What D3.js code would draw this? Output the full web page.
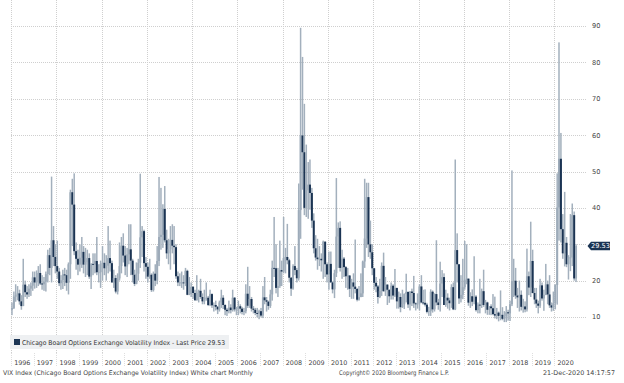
<!DOCTYPE html>
<html><head><meta charset="utf-8">
<script src="https://cdn.jsdelivr.net/npm/d3@7"></script>
<style>html,body{margin:0;padding:0;background:#fff;overflow:hidden}svg{display:block}</style>
</head><body>
<script>
// Monthly VIX OHLC, Jan 1996 .. Dec 2020
const years = d3.range(1996, 2021);
const yTicks = [10, 20, 30, 40, 50, 60, 70, 80, 90];
const lastPrice = 29.53;
const open = [
 12.0,12.5,15.6,16.0,16.5,14.3,13.0,18.9,16.8,16.2,17.8,18.6,
 20.9,19.5,19.8,22.1,19.2,19.0,19.7,21.8,27.0,23.5,31.1,26.5,
 24.0,22.5,19.3,20.1,21.7,21.5,19.4,24.5,44.3,40.9,28.1,26.0,
 24.4,26.3,27.9,24.4,25.1,26.2,21.1,24.6,24.4,25.4,22.3,22.3,
 24.6,24.9,23.4,24.1,26.2,24.8,19.5,20.7,17.0,20.6,24.0,29.6,
 26.9,23.9,27.2,28.6,25.5,21.6,19.1,21.9,24.9,31.9,33.6,24.8,
 23.8,21.1,21.6,17.4,21.9,20.0,25.4,32.0,32.6,39.7,31.1,27.5,
 28.6,31.2,29.6,29.2,21.2,19.5,19.5,19.5,19.4,22.7,16.1,16.3,
 18.3,16.6,14.6,16.7,17.2,15.5,14.3,15.3,15.3,13.3,16.3,13.2,
 13.3,12.8,12.1,14.0,15.3,13.3,12.0,11.6,12.6,11.9,15.3,12.1,
 12.1,12.95,12.3,11.4,11.6,16.4,13.1,14.95,12.3,11.98,11.1,10.9,
 11.6,10.4,15.4,14.6,14.2,13.05,16.2,23.5,23.4,18.0,18.5,22.9,
 22.5,26.2,26.5,25.6,20.8,17.8,24.0,22.9,20.65,39.4,59.9,55.3,
 40.0,44.8,46.4,44.1,36.5,28.9,26.35,25.9,26.0,25.6,30.7,24.5,
 21.7,24.6,19.5,17.6,22.05,32.1,34.5,23.5,26.05,23.7,21.2,21.4,
 17.75,19.5,18.35,17.7,14.75,15.45,16.5,25.25,31.6,42.96,29.96,27.8,
 23.4,19.4,18.4,15.5,17.15,24.06,17.08,18.9,17.5,15.7,18.6,15.9,
 18.0,14.3,15.5,12.7,13.5,16.3,16.9,13.45,17.0,16.6,13.75,13.7,
 13.7,18.4,14.0,13.9,13.4,11.4,11.6,16.95,12.1,16.3,14.0,13.3,
 19.2,20.97,13.3,15.3,14.55,13.8,18.2,12.1,28.4,24.5,15.1,16.1,
 18.2,20.2,20.55,13.95,15.7,14.2,15.6,11.9,13.4,13.3,17.1,13.3,
 14.0,11.99,12.9,12.4,10.8,10.4,11.2,10.3,10.6,9.5,10.2,11.3,
 11.0,13.5,19.85,19.97,15.9,15.4,16.1,12.8,12.9,12.1,21.2,18.1,
 25.4,16.6,14.8,13.7,13.1,18.7,15.1,16.1,18.98,16.2,13.2,12.6,
 13.8,18.8,40.1,53.5,34.15,27.5,30.4,24.5,26.4,26.4,38.0,20.6
];
const high = [
 14.0,17.0,19.0,18.5,17.5,16.0,26.0,20.0,18.5,19.0,19.5,22.5,
 22.5,22.8,24.0,24.5,21.5,21.0,22.5,28.5,29.0,48.6,35.0,30.0,
 31.0,23.5,21.5,23.0,23.5,23.0,25.0,45.0,48.0,49.5,30.5,28.5,
 30.0,32.0,29.5,29.0,28.5,27.5,24.8,27.5,27.5,32.0,24.5,25.5,
 29.5,27.5,27.0,35.0,31.0,25.5,23.0,21.5,22.0,30.5,32.0,33.0,
 29.5,29.0,35.5,35.5,26.0,23.0,25.0,26.0,49.4,35.0,34.0,26.5,
 25.0,26.0,22.0,22.5,24.5,29.5,48.5,45.5,41.0,46.0,34.0,31.5,
 35.0,35.5,35.0,30.0,22.5,22.0,22.5,21.5,23.5,23.0,21.0,19.5,
 18.5,17.5,21.5,17.5,20.5,16.5,17.5,19.5,15.8,17.5,16.5,14.0,
 14.5,13.0,14.5,17.5,16.0,13.5,12.5,14.5,13.5,17.5,15.5,12.8,
 14.5,13.5,12.8,12.5,19.0,23.8,18.5,15.5,13.0,12.5,12.5,12.0,
 12.5,18.5,21.0,15.5,14.5,17.5,25.5,37.5,30.0,23.5,31.0,25.5,
 37.5,29.0,35.6,26.0,21.0,24.5,29.5,23.5,46.7,89.5,81.5,68.6,
 57.4,52.6,53.3,45.5,38.5,32.5,31.5,29.5,27.5,31.0,30.8,25.0,
 28.0,28.0,19.8,23.0,48.2,36.0,36.3,28.5,26.5,24.0,23.5,21.5,
 20.5,22.0,31.3,18.0,18.5,22.0,25.5,48.0,46.9,46.9,36.5,30.0,
 23.5,21.0,18.8,20.5,25.0,27.7,21.0,19.0,17.5,19.5,19.0,23.2,
 18.0,17.0,16.5,17.5,16.5,21.9,17.0,17.1,17.8,21.3,14.0,16.5,
 19.0,21.5,17.5,17.6,13.9,12.8,17.6,17.3,16.5,31.1,15.0,25.2,
 22.9,22.0,17.5,16.5,15.3,19.0,19.5,53.3,33.0,24.5,21.5,26.0,
 30.9,30.0,20.55,16.8,17.6,26.7,16.0,14.0,20.5,17.8,23.0,14.7,
 14.2,13.0,13.5,16.3,15.6,12.5,11.5,17.3,12.7,11.6,13.0,12.0,
 14.5,50.3,26.0,23.5,18.0,20.0,17.3,15.0,14.3,28.8,22.5,36.2,
 28.5,18.0,18.0,14.5,20.5,19.5,17.5,24.6,20.0,21.5,14.0,17.0,
 19.0,49.5,85.5,60.6,38.3,44.4,32.0,27.0,38.3,41.2,39.0,30.0
];
const low = [
 10.5,12.2,14.2,14.6,13.4,12.0,13.0,15.5,15.0,15.5,15.8,17.2,
 17.8,18.0,18.5,18.8,17.5,17.2,17.0,19.5,21.5,19.5,24.0,22.0,
 20.5,18.5,17.5,17.7,18.5,17.2,16.2,20.5,29.5,27.0,23.0,21.5,
 22.5,23.5,22.0,21.0,21.5,20.5,17.7,21.5,22.0,21.5,19.5,18.0,
 20.0,21.5,20.0,22.0,22.5,19.5,18.0,16.5,16.2,20.0,22.0,25.0,
 21.5,21.0,24.5,21.5,19.5,18.5,19.0,20.0,23.5,26.5,22.5,20.5,
 19.5,20.5,16.9,17.0,18.5,19.0,24.0,28.5,29.0,30.5,26.0,24.5,
 23.0,27.5,24.5,20.5,18.5,18.5,18.0,17.5,18.5,16.0,16.0,15.5,
 15.0,14.5,14.5,14.0,15.0,13.5,13.5,14.5,13.0,13.0,12.5,11.5,
 11.8,10.8,11.5,12.5,12.2,10.5,10.3,11.0,11.0,11.5,11.5,10.5,
 10.5,11.0,10.7,10.5,11.0,12.5,12.5,11.5,11.0,10.5,9.9,9.4,
 9.9,9.7,13.5,11.5,12.0,12.5,14.5,21.0,16.5,15.5,18.0,18.5,
 22.0,22.0,24.5,19.5,15.8,17.5,21.5,19.5,20.0,31.5,45.0,38.0,
 37.5,37.0,39.5,34.5,27.5,25.5,23.0,24.0,22.5,20.5,21.0,19.5,
 17.5,19.5,16.5,15.2,21.0,23.5,22.5,20.5,21.0,18.0,17.5,15.5,
 15.0,15.0,16.5,14.3,14.5,15.5,15.5,23.5,29.0,26.5,26.0,21.5,
 17.5,16.8,13.7,15.2,15.8,17.0,15.8,13.3,13.9,14.8,14.8,15.5,
 12.3,12.3,11.3,12.5,12.2,14.0,12.5,11.8,13.0,12.5,11.8,12.3,
 11.8,13.8,13.4,12.9,11.0,10.3,10.3,11.2,11.5,13.2,12.0,11.5,
 15.5,13.3,12.8,12.3,11.8,12.5,11.9,11.9,19.5,13.6,14.0,14.9,
 17.5,19.0,13.1,12.5,13.0,13.5,11.5,11.0,11.0,12.5,12.8,11.0,
 10.6,10.6,10.5,10.5,9.6,9.4,8.8,9.1,9.1,8.6,8.6,9.0,
 8.9,13.0,15.5,15.0,12.5,11.5,11.8,11.2,11.3,11.5,16.0,15.5,
 16.5,13.5,12.5,11.0,12.5,14.5,11.7,16.0,13.5,12.5,11.5,11.7,
 12.1,13.4,31.0,30.5,26.0,23.9,23.7,20.3,22.6,24.0,20.0,19.6
];
const close = [
 12.5,15.6,16.0,16.5,14.3,13.0,18.9,16.8,16.2,17.8,18.6,20.9,
 19.5,19.8,22.1,19.2,19.0,19.7,21.8,27.0,23.5,31.1,26.5,24.0,
 22.5,19.3,20.1,21.7,21.5,19.4,24.5,44.3,40.9,28.1,26.0,24.4,
 26.3,27.9,24.4,25.1,26.2,21.1,24.6,24.4,25.4,22.3,22.3,24.6,
 24.9,23.4,24.1,26.2,24.8,19.5,20.7,17.0,20.6,24.0,29.6,26.9,
 23.9,27.2,28.6,25.5,21.6,19.1,21.9,24.9,31.9,33.6,24.8,23.8,
 21.1,21.6,17.4,21.9,20.0,25.4,32.0,32.6,39.7,31.1,27.5,28.6,
 31.2,29.6,29.2,21.2,19.5,19.5,19.5,19.4,22.7,16.1,16.3,18.3,
 16.6,14.6,16.7,17.2,15.5,14.3,15.3,15.3,13.3,16.3,13.2,13.3,
 12.8,12.1,14.0,15.3,13.3,12.0,11.6,12.6,11.9,15.3,12.1,12.1,
 12.95,12.3,11.4,11.6,16.4,13.1,14.95,12.3,11.98,11.1,10.9,11.6,
 10.4,15.4,14.6,14.2,13.05,16.2,23.5,23.4,18.0,18.5,22.9,22.5,
 26.2,26.5,25.6,20.8,17.8,24.0,22.9,20.65,39.4,59.9,55.3,40.0,
 44.8,46.4,44.1,36.5,28.9,26.35,25.9,26.0,25.6,30.7,24.5,21.7,
 24.6,19.5,17.6,22.05,32.1,34.5,23.5,26.05,23.7,21.2,21.4,17.75,
 19.5,18.35,17.7,14.75,15.45,16.5,25.25,31.6,42.96,29.96,27.8,23.4,
 19.4,18.4,15.5,17.15,24.06,17.08,18.9,17.5,15.7,18.6,15.9,18.0,
 14.3,15.5,12.7,13.5,16.3,16.9,13.45,17.0,16.6,13.75,13.7,13.7,
 18.4,14.0,13.9,13.4,11.4,11.6,16.95,12.1,16.3,14.0,13.3,19.2,
 20.97,13.3,15.3,14.55,13.8,18.2,12.1,28.4,24.5,15.1,16.1,18.2,
 20.2,20.55,13.95,15.7,14.2,15.6,11.9,13.4,13.3,17.1,13.3,14.0,
 11.99,12.9,12.4,10.8,10.4,11.2,10.3,10.6,9.5,10.2,11.3,11.0,
 13.5,19.85,19.97,15.9,15.4,16.1,12.8,12.9,12.1,21.2,18.1,25.4,
 16.6,14.8,13.7,13.1,18.7,15.1,16.1,18.98,16.2,13.2,12.6,13.8,
 18.8,40.1,53.5,34.15,27.5,30.4,24.5,26.4,26.4,38.0,20.6,29.53
];
const months = open.map((_, i) => new Date(1996, i, 1));

const W = 624, H = 383;
const navy = "#1b3453", wickC = "#a3b0bd", upC = "#9dabb9", gridC = "#cfcfcf";
const font = "'DejaVu Sans', Verdana, sans-serif";

const svg = d3.select("body").append("svg").attr("width", W).attr("height", H);

const x = d3.scaleTime().domain([new Date(1996,0,1), new Date(2021,0,1)]).range([11, 577]);
const y = d3.scaleLinear().domain([10, 90]).range([317, 26]);
const plotRight = 587, plotBottom = 353;

// horizontal grid
svg.append("g").selectAll("line").data(yTicks).join("line")
  .attr("x1", 11).attr("x2", plotRight)
  .attr("y1", d => Math.round(y(d)) + 0.5).attr("y2", d => Math.round(y(d)) + 0.5)
  .attr("stroke", gridC).attr("stroke-dasharray", "1,1");

// vertical grid every 2 years
const gridYears = years.filter(yy => (yy - 1996) % 2 === 0);
svg.append("g").selectAll("line").data(gridYears).join("line")
  .attr("x1", d => Math.round(x(new Date(d,0,1))) + 0.5).attr("x2", d => Math.round(x(new Date(d,0,1))) + 0.5)
  .attr("y1", 0).attr("y2", plotBottom)
  .attr("stroke", gridC).attr("stroke-dasharray", "1,1");

// year separators in label row
svg.append("g").selectAll("line").data(years).join("line")
  .attr("x1", d => Math.round(x(new Date(d,0,1))) + 0.5).attr("x2", d => Math.round(x(new Date(d,0,1))) + 0.5)
  .attr("y1", plotBottom).attr("y2", 367)
  .attr("stroke", "#dedede").attr("stroke-dasharray", "1,1");

// candles
const band = (x(new Date(1996,1,1)) - x(new Date(1996,0,1)));
const g = svg.append("g");
months.forEach((m, i) => {
  const cx = x(m) + band / 2;
  const o = open[i], c = close[i], h = high[i], l = low[i];
  g.append("rect").attr("x", cx - 0.75).attr("width", 1.5)
    .attr("y", y(h)).attr("height", Math.max(0.8, y(l) - y(h))).attr("fill", wickC);
  const top = y(Math.max(o, c)), bot = y(Math.min(o, c));
  g.append("rect").attr("x", cx - 1.0).attr("width", 2.0)
    .attr("y", top).attr("height", Math.max(0.9, bot - top))
    .attr("fill", c >= o ? upC : navy);
});

// right axis labels (the 30 label sits under the last-price tag)
const ty = y(lastPrice);
svg.append("g").selectAll("text").data(yTicks.filter(d => Math.abs(y(d) - ty) > 8)).join("text")
  .attr("x", 592).attr("y", d => y(d) + 2.4)
  .attr("font-family", font).attr("font-size", 6.6).attr("fill", "#444")
  .text(d => d);

// last price tag
svg.append("path")
  .attr("d", `M587.5,${ty} L591,${ty-4.2} L610,${ty-4.2} L610,${ty+4.2} L591,${ty+4.2} Z`)
  .attr("fill", navy);
svg.append("text").attr("x", 600.5).attr("y", ty + 2.4).attr("text-anchor", "middle")
  .attr("font-family", font).attr("font-size", 6.6).attr("fill", "#fff").text(lastPrice.toFixed(2));

// legend
svg.append("rect").attr("x", 10).attr("y", 335).attr("width", 219).attr("height", 14).attr("fill", "#eef0f2");
svg.append("rect").attr("x", 14).attr("y", 339).attr("width", 6).attr("height", 6).attr("fill", navy);
svg.append("text").attr("x", 22).attr("y", 344.8)
  .attr("font-family", font).attr("font-size", 6.6).attr("fill", "#333")
  .attr("textLength", 203).attr("lengthAdjust", "spacingAndGlyphs")
  .text("Chicago Board Options Exchange Volatility Index - Last Price " + lastPrice.toFixed(2));

// year labels
svg.append("g").selectAll("text").data(years).join("text")
  .attr("x", d => x(new Date(d, 6, 1))).attr("y", 364.5).attr("text-anchor", "middle")
  .attr("font-family", font).attr("font-size", 6.4).attr("fill", "#444")
  .text(d => d);

// footer
svg.append("text").attr("x", 3).attr("y", 374.5)
  .attr("font-family", font).attr("font-size", 6.4).attr("fill", "#444")
  .attr("textLength", 250).attr("lengthAdjust", "spacingAndGlyphs")
  .text("VIX Index (Chicago Board Options Exchange Volatility Index) White chart  Monthly");
svg.append("text").attr("x", 339).attr("y", 374.5)
  .attr("font-family", font).attr("font-size", 6.4).attr("fill", "#444")
  .attr("textLength", 110).attr("lengthAdjust", "spacingAndGlyphs")
  .text("Copyright\u00A9 2020 Bloomberg Finance L.P.");
svg.append("text").attr("x", 615).attr("y", 374.5).attr("text-anchor", "end")
  .attr("font-family", font).attr("font-size", 6.4).attr("fill", "#444")
  .text("21-Dec-2020 14:17:57");
</script>
</body></html>
